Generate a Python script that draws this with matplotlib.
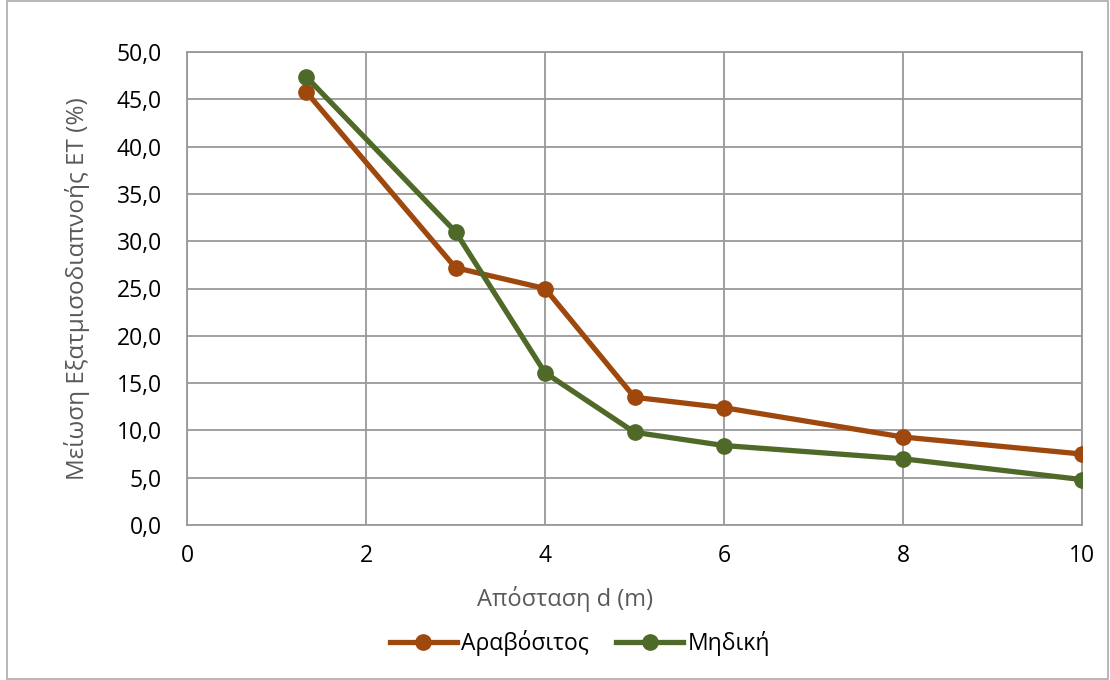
import numpy as np
import matplotlib
matplotlib.use("Agg")
import matplotlib.pyplot as plt
from matplotlib.ticker import FuncFormatter, MultipleLocator
from matplotlib.patches import Rectangle

# distance d (m)
distance = [1.33, 3, 4, 5, 6, 8, 10]
# ET reduction (%)
arabositos = [45.8, 27.2, 25.0, 13.5, 12.4, 9.3, 7.5]
midiki = [47.4, 31.0, 16.1, 9.8, 8.4, 7.0, 4.8]
series_names = ["Αραβόσιτος", "Μηδική"]

plt.rcParams['font.family'] = ['Open Sans', 'DejaVu Sans']

fig = plt.figure(figsize=(11.1, 6.8), dpi=100)
ax = fig.add_axes([187 / 1110, 1 - 525 / 680, 895 / 1110, 473 / 680])

orange = "#9E480E"
green = "#4F6A28"
ax.plot(distance, arabositos, color=orange, lw=3.8, marker='o', ms=11, label=series_names[0], zorder=3)
ax.plot(distance, midiki, color=green, lw=3.8, marker='o', ms=11, label=series_names[1], zorder=3)

ax.set_xlim(0, 10)
ax.set_ylim(0, 50)
ax.xaxis.set_major_locator(MultipleLocator(2))
ax.yaxis.set_major_locator(MultipleLocator(5))
ax.yaxis.set_major_formatter(FuncFormatter(lambda v, p: f"{v:.1f}".replace(".", ",")))

ax.grid(True, color="#999999", lw=1.3)
ax.set_axisbelow(True)
for s in ax.spines.values():
    s.set_color("#999999")
    s.set_linewidth(1.3)
ax.tick_params(length=0, labelsize=16.5, colors="black")
ax.tick_params(axis='x', pad=14)
ax.tick_params(axis='y', pad=18)

ax.set_ylabel("Μείωση Εξατμισοδιαπνοής ET (%)", fontsize=17.5, color="#595959")
ax.set_xlabel("Απόσταση d (m)", fontsize=17, color="#595959")
ax.xaxis.set_label_coords(0.422, -0.13)
ax.yaxis.set_label_coords(-0.108, 0.5)

fig.legend(loc="center", bbox_to_anchor=(0.5225, 1 - 643 / 680), ncol=2, frameon=False,
           fontsize=16.5, handlelength=2.9, columnspacing=1.2, handletextpad=0.2)

fig.patches.append(Rectangle((7 / 1110, 0.002), 1 - 9 / 1110, 1 - 0.004, transform=fig.transFigure,
                             fill=False, edgecolor="#AAAAAA", lw=1.2))

fig.savefig("out.png", dpi=100)
